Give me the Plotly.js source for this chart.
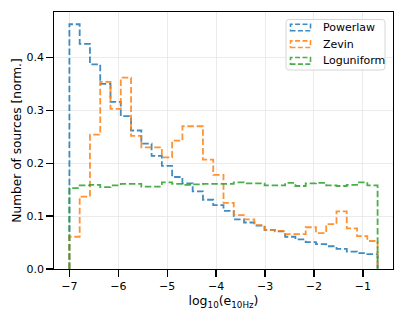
<!DOCTYPE html>
<html>
<head>
<meta charset="utf-8">
<script src="https://cdn.plot.ly/plotly-3.0.1.min.js"></script>
<style>html,body{margin:0;padding:0;background:#fff;}#chart{width:407px;height:317px;}</style>
</head>
<body>
<div id="chart"></div>
<script>
// Histogram data: 30 bins from log10(e) = -7 to log10(0.2)
var binStart = -7;
var binEnd = Math.log10(0.2);
var nBins = 30;
var seriesNames = ["Powerlaw", "Zevin", "Loguniform"];
var powerlaw = [0.463, 0.426, 0.387, 0.350, 0.316, 0.289, 0.262, 0.237, 0.214, 0.195,
                0.174, 0.162, 0.147, 0.131, 0.121, 0.110, 0.094, 0.088, 0.082, 0.074,
                0.071, 0.061, 0.056, 0.051, 0.047, 0.043, 0.038, 0.033, 0.030, 0.028];
var zevin = [0.061, 0.137, 0.254, 0.354, 0.303, 0.362, 0.252, 0.230, 0.230, 0.211,
             0.243, 0.270, 0.270, 0.207, 0.178, 0.125, 0.102, 0.094, 0.083, 0.074,
             0.072, 0.066, 0.066, 0.079, 0.068, 0.085, 0.109, 0.077, 0.062, 0.053];
var loguniform = [0.153, 0.158, 0.159, 0.155, 0.158, 0.161, 0.161, 0.156, 0.156, 0.164,
                  0.161, 0.159, 0.160, 0.161, 0.161, 0.161, 0.164, 0.162, 0.162, 0.158,
                  0.158, 0.163, 0.157, 0.162, 0.163, 0.158, 0.157, 0.159, 0.164, 0.158];
var xTicks = [-7, -6, -5, -4, -3, -2, -1];
var yTicks = [0.0, 0.1, 0.2, 0.3, 0.4];
var colors = ["#1f77b4", "#ff7f0e", "#2ca02c"];

var edges = [];
for (var i = 0; i <= nBins; i++) edges.push(binStart + i * (binEnd - binStart) / nBins);

function stepTrace(vals, name, color) {
  var x = [edges[0]], y = [0];
  for (var i = 0; i < vals.length; i++) { x.push(edges[i]); y.push(vals[i]); }
  x.push(edges[nBins]); y.push(vals[vals.length - 1]);
  x.push(edges[nBins]); y.push(0);
  return {
    type: "scatter", mode: "lines", x: x, y: y, name: name,
    line: {shape: "hv", color: color, width: 1.8, dash: "6.5px,2.8px"},
    opacity: 0.85, showlegend: false, hoverinfo: "skip"
  };
}

var allSeries = [powerlaw, zevin, loguniform];
var traces = allSeries.map(function (s, k) { return stepTrace(s, seriesNames[k], colors[k]); });

var xMin = binStart - 0.05 * (binEnd - binStart);
var xMax = binEnd + 0.05 * (binEnd - binStart);
var yMax = Math.max.apply(null, powerlaw.concat(zevin, loguniform)) * 1.05;

// custom legend (matplotlib-like patch symbols)
var W = 339, H = 257;
function px2x(p) { return (p - 54) / W; }
function px2y(p) { return (269 - p) / H; }
var bx0 = px2x(286), bx1 = px2x(385), by0 = px2y(70), by1 = px2y(19.5);
var rx = 3 / W, ry = 3 / H;
var boxPath = "M" + (bx0 + rx) + "," + by1 + " L" + (bx1 - rx) + "," + by1 +
  " Q" + bx1 + "," + by1 + " " + bx1 + "," + (by1 - ry) +
  " L" + bx1 + "," + (by0 + ry) + " Q" + bx1 + "," + by0 + " " + (bx1 - rx) + "," + by0 +
  " L" + (bx0 + rx) + "," + by0 + " Q" + bx0 + "," + by0 + " " + bx0 + "," + (by0 + ry) +
  " L" + bx0 + "," + (by1 - ry) + " Q" + bx0 + "," + by1 + " " + (bx0 + rx) + "," + by1 + " Z";
var shapes = [{type: "path", xref: "paper", yref: "paper", path: boxPath,
  fillcolor: "rgba(255,255,255,0.8)", line: {color: "#d6d6d6", width: 1}}];
var annotations = [];
var rowsPx = [27.5, 44.2, 60.8];
seriesNames.forEach(function (n, k) {
  var yc = rowsPx[k];
  shapes.push({type: "rect", xref: "paper", yref: "paper",
    x0: px2x(290.5), x1: px2x(310.5), y0: px2y(yc + 3.3), y1: px2y(yc - 3.3),
    line: {color: colors[k], width: 1.6, dash: "5px,2.4px"}, opacity: 0.85, fillcolor: "rgba(0,0,0,0)"});
  annotations.push({xref: "paper", yref: "paper", x: px2x(321), y: px2y(yc),
    xanchor: "left", yanchor: "middle", text: n, showarrow: false,
    font: {family: "DejaVu Sans", size: 11, color: "#000"}});
});

var axisCommon = {
  showline: true, linecolor: "#000", linewidth: 1.3, mirror: true,
  ticks: "outside", ticklen: 6.5, tickwidth: 1.3, tickcolor: "#000",
  showgrid: true, gridcolor: "#e6e6e6", gridwidth: 0.8, zeroline: false,
  tickfont: {family: "DejaVu Sans", size: 11, color: "#000"}
};

var layout = {
  width: 407, height: 317,
  margin: {l: 54, r: 14, t: 12, b: 48},
  paper_bgcolor: "#fff", plot_bgcolor: "#fff",
  showlegend: false,
  xaxis: Object.assign({}, axisCommon, {
    range: [xMin, xMax], tickvals: xTicks, ticktext: xTicks.map(function (v) { return "\u2212" + Math.abs(v); }),
    title: {text: "log<sub>10</sub>(e<sub>10Hz</sub>)", font: {family: "DejaVu Sans", size: 12.5, color: "#000"}, standoff: 3}
  }),
  yaxis: Object.assign({}, axisCommon, {
    range: [0, yMax], tickvals: yTicks, ticktext: yTicks.map(function (v) { return v.toFixed(1); }),
    title: {text: "Number of sources [norm.]", font: {family: "DejaVu Sans", size: 12.2, color: "#000"}, standoff: 2}
  }),
  shapes: shapes,
  annotations: annotations
};

Plotly.newPlot("chart", traces, layout, {displayModeBar: false, staticPlot: true});
</script>
</body>
</html>
